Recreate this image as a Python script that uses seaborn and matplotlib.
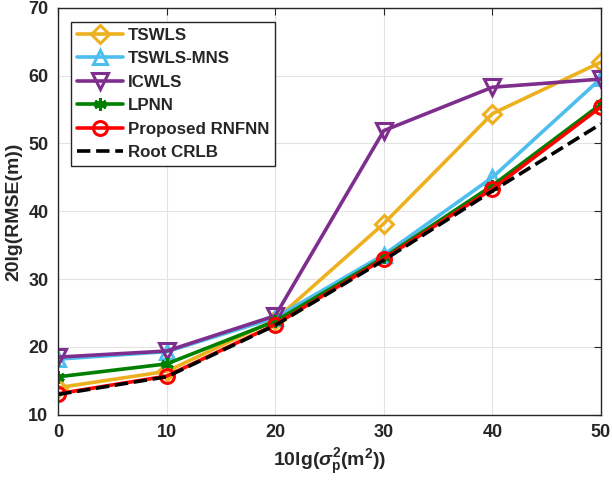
import numpy as np
import pandas as pd
import matplotlib
matplotlib.use('Agg')
import matplotlib.pyplot as plt
import seaborn as sns

# x axis: 10lg(sigma_p^2)
noise_db = [0, 10, 20, 30, 40, 50]

# 20lg(RMSE) for each method
tswls = [14.0, 16.4, 24.0, 38.2, 54.4, 62.0]
tswls_mns = [18.2, 19.3, 24.3, 33.6, 45.0, 59.6]
icwls = [18.5, 19.4, 24.6, 51.9, 58.3, 59.5]
lpnn = [15.6, 17.5, 23.8, 33.2, 43.8, 55.8]
rnfnn = [13.1, 15.7, 23.3, 33.0, 43.3, 55.4]
crlb = [13.0, 15.6, 23.2, 32.8, 43.0, 52.9]

labels = ['TSWLS', 'TSWLS-MNS', 'ICWLS', 'LPNN', 'Proposed RNFNN', 'Root CRLB']
series = [tswls, tswls_mns, icwls, lpnn, rnfnn, crlb]

sns.set_style('whitegrid')
plt.rcParams['font.family'] = ['Liberation Sans', 'DejaVu Sans']
plt.rcParams['font.weight'] = 'bold'
plt.rcParams['mathtext.fontset'] = 'custom'
plt.rcParams['mathtext.it'] = 'Liberation Sans:italic:bold'
plt.rcParams['mathtext.rm'] = 'Liberation Sans:bold'

fig = plt.figure(figsize=(6.12, 4.92), dpi=100)
ax = fig.add_axes([0.095, 0.157, 0.887, 0.827])

styles = [
    dict(color='#EDB120', marker='D', markersize=9, markerfacecolor='none'),
    dict(color='#4DBEEE', marker='^', markersize=10, markerfacecolor='none'),
    dict(color='#7E2F8E', marker='v', markersize=11, markerfacecolor='none'),
    dict(color='#008000', marker=(6, 2, 0), markersize=9),
    dict(color='#FF0000', marker='o', markersize=10, markerfacecolor='none'),
    dict(color='black', linestyle='--', marker=None),
]

for vals, lab, st in zip(series, labels, styles):
    df = pd.DataFrame({'x': noise_db, 'y': vals})
    c = st.pop('color')
    sns.lineplot(data=df, x='x', y='y', ax=ax, label=lab, color=c,
                 markeredgecolor=c, markeredgewidth=2.2, linewidth=2.6, **st)

ax.set_xlim(0, 50)
ax.set_ylim(10, 70)
ax.set_xticks(noise_db)
ax.set_yticks(range(10, 71, 10))
ax.grid(True, color='#e3e3e3', linewidth=0.8)
for s in ax.spines.values():
    s.set_color('#262626')
    s.set_linewidth(1.0)
ax.tick_params(direction='in', top=True, right=True, length=5, width=0.8,
               labelsize=13, colors='#262626', pad=7)
for t in ax.get_xticklabels() + ax.get_yticklabels():
    t.set_fontweight('bold')

ax.set_xlabel(r'10lg($\sigma_{\rm p}^2$(m$^2$))', fontsize=14, fontweight='bold', color='#262626')
ax.set_ylabel('20lg(RMSE(m))', fontsize=14, fontweight='bold', color='#262626')

leg = ax.legend(loc='upper left', bbox_to_anchor=(0.024, 0.966), borderaxespad=0,
                prop={'weight': 'bold', 'size': 12.2}, frameon=True, fancybox=False,
                handlelength=2.7, borderpad=0.35, labelspacing=0.5, handletextpad=0.3)
leg.get_frame().set_edgecolor('#262626')
leg.get_frame().set_linewidth(1.0)
leg.get_frame().set_alpha(1)

fig.savefig('out.png', dpi=100)
